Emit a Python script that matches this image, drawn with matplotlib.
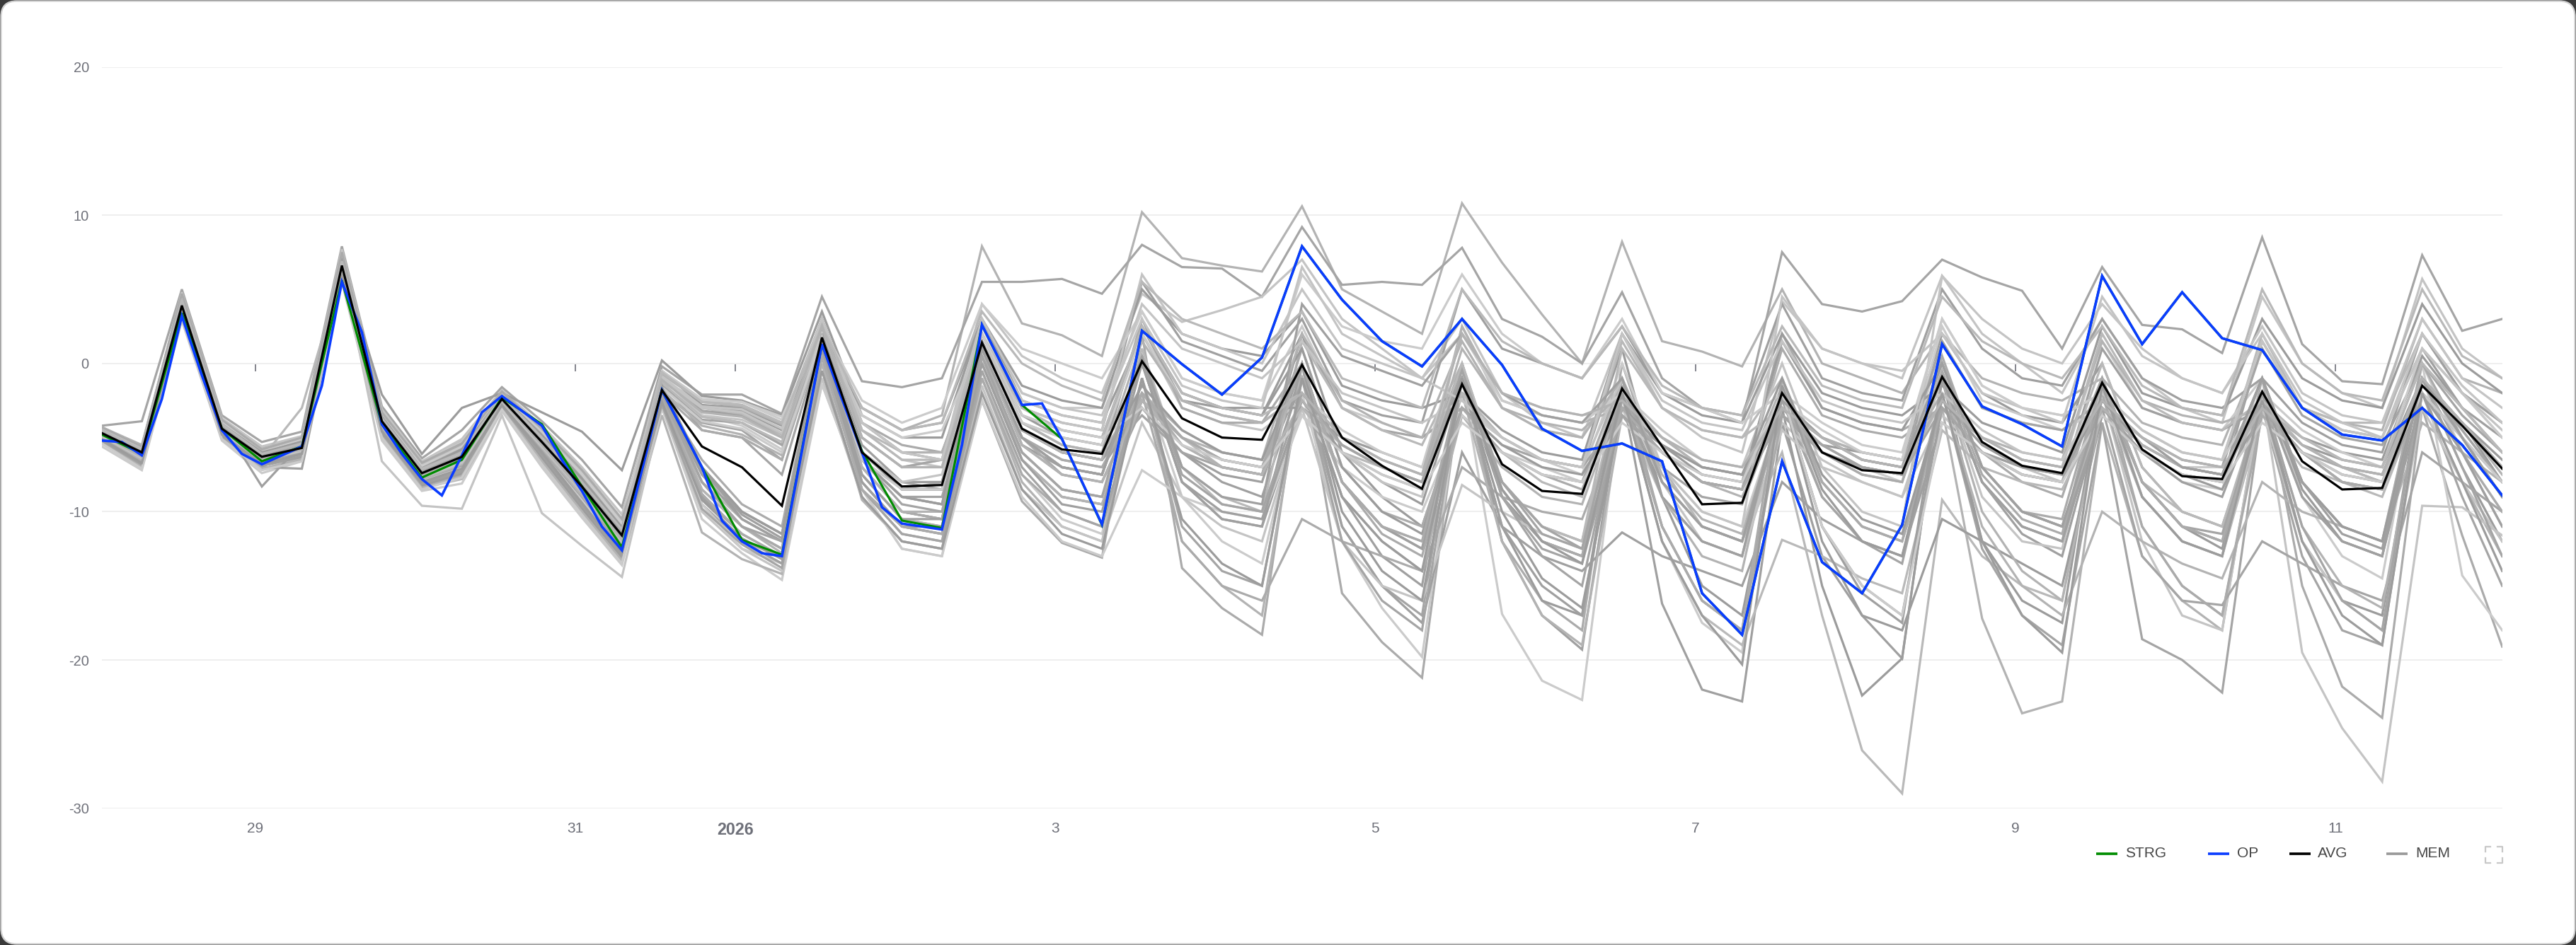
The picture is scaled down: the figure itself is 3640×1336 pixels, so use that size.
import matplotlib
matplotlib.use("Agg")
import matplotlib.pyplot as plt
from matplotlib.lines import Line2D
from matplotlib.patches import FancyBboxPatch
from matplotlib.transforms import IdentityTransform
import pandas as pd

plt.rcParams['font.family'] = ['Liberation Sans', 'DejaVu Sans']

# ---------------- data ----------------
times = pd.date_range("2025-12-28 00:00", periods=61, freq="6h")
op_times = pd.date_range("2025-12-28 00:00", "2026-01-03 00:00", freq="3h").append(
    pd.date_range("2026-01-03 06:00", "2026-01-12 00:00", freq="6h"))

avg = [-4.7, -6.0, 3.9, -4.4, -6.3, -5.7, 6.6, -3.9, -7.4, -6.3,
       -2.4, -5.3, -8.3, -11.6, -1.8, -5.6, -7.0, -9.6, 1.75, -6.0,
       -8.3, -8.2, 1.4, -4.4, -5.8, -6.1, 0.15, -3.7, -5.0, -5.15,
       -0.1, -5.0, -6.9, -8.45, -1.4, -6.8, -8.6, -8.8, -1.7, -5.6,
       -9.5, -9.4, -2.0, -6.0, -7.2, -7.4, -0.9, -5.3, -6.9, -7.4,
       -1.3, -5.8, -7.6, -7.8, -1.9, -6.6, -8.5, -8.4, -1.5, -4.2, -7.1]

strg = [-4.8, -6.1, 3.4, -4.4, -6.6, -5.6, 5.6, -4.1, -7.7, -6.5,
        -2.3, -4.1, -8.3, -12.4, -1.8, -7.0, -11.9, -12.9, 1.3, -5.9,
        -10.6, -11.1, 2.6, -2.8, -5.1, -10.9,
        2.2, -0.05, -2.1, 0.4, 7.9, 4.3, 1.5, -0.2, 3.0, -0.1, -4.4, -5.9,
        -5.4, -6.6, -15.5, -18.3, -6.6, -13.4, -15.5, -10.9, 1.3, -2.9, -4.1, -5.6,
        5.9, 1.3, 4.8, 1.7, 0.9, -3.0, -4.8, -5.2, -3.0, -5.5, -8.9]

op = [-5.2, -5.3, -6.2, -2.4, 3.2, -0.8, -4.5, -6.1, -6.8, -6.2,
      -5.6, -1.5, 5.5, 2.1, -4.1, -6.1, -7.8, -8.9, -6.2, -3.3,
      -2.2, -3.2, -4.2, -6.5, -8.6, -11.0, -12.6, -7.2, -1.8, -4.4,
      -7.0, -10.6, -12.0, -12.8, -13.0, -5.9, 1.3, -2.4, -6.0, -9.7,
      -10.8, -11.0, -11.2, -5.5, 2.6, -0.1, -2.8, -2.7, -5.1,
      -10.85, 2.2, -0.05, -2.1, 0.4, 7.9, 4.3, 1.5, -0.2, 3.0, -0.1, -4.4, -5.9,
      -5.4, -6.6, -15.5, -18.3, -6.6, -13.4, -15.5, -10.9, 1.3, -2.9, -4.1, -5.6,
      5.9, 1.3, 4.8, 1.7, 0.9, -3.0, -4.8, -5.2, -3.0, -5.5, -8.9]

members = [
    [-4.5,-5.9,4.3,-4.1,-6.0,-5.3,7.1,-3.5,-7.0,-5.8,-2.1,-4.8,-7.6,-10.8, -1.0,-3.0,-3.2,-4.5,3.0,-4.0,-6.0,-6.5,2.0,-3.5,-4.5,-5.0, 2.5,-2.0,-3.0,-3.5,2.0,-6.0,-9.0,-11.0,-3.0,-5.0,-6.5,-7.0,1.0,-9.0,-15.0,-17.0,-3.5,-5.5,-6.0,-6.5,2.0,-2.0,-3.5,-4.0,0.0,-7.0,-10.0,-11.0,-3.0,-5.0,-6.0,-6.5,0.5,-3.0,-6.0],
    [-4.3,-5.5,4.7,-3.9,-5.7,-5.0,7.5,-3.2,-6.8,-5.2,-1.9,-4.3,-7.2,-10.5, -0.5,-2.5,-2.8,-4.0,2.2,-3.0,-4.5,-3.5,7.9,2.7,1.9,0.5, 10.2,7.1,6.6,6.2,10.6,5.0,3.5,2.0,10.8,6.8,3.3,0.0,8.2,1.5,0.8,-0.2,5.0,0.0,-1.0,-2.0,2.0,-1.0,-2.0,-2.5,-1.0,-4.0,-5.0,-5.5,1.0,-3.0,-4.0,-4.5,3.0,-1.0,-2.0],
    [-4.2,-3.9,5.0,-3.5,-5.3,-4.6,7.9,-2.9,-6.4,-4.5,-1.6,-3.9,-6.5,-9.7, -0.2,-2.1,-2.1,-3.4,4.5,-1.2,-1.6,-1.0,5.5,5.5,5.7,4.7, 8.0,6.5,6.4,4.5,9.2,5.3,5.5,5.3,7.8,3.0,1.8,0.0,4.8,-1.0,-3.0,-4.0,7.5,4.0,3.5,4.2,7.0,5.8,4.9,1.0,6.5,2.6,2.3,0.7,8.5,1.3,-1.2,-1.4,7.3,2.2,3.0],
    [-4.3,-5.6,4.8,-3.7,-5.6,-4.9,7.7,-3.1,-6.6,-5.1,-1.8,-4.2,-7.0,-10.2, -1.2,-2.5,-3.0,-4.0,2.5,-5.0,-7.0,-6.5,4.0,0.5,-1.0,-2.0, 4.7,2.8,3.6,4.5,7.0,3.0,1.0,-1.0,3.0,-2.0,-4.0,-5.0,2.0,-3.0,-5.0,-6.0,4.2,1.0,0.0,-1.0,5.9,2.0,0.0,-2.0,3.0,-1.0,-3.0,-4.0,4.5,0.0,-2.0,-3.0,5.7,1.0,-1.0],
    [-5.1,-6.7,3.2,-4.9,-6.9,-6.2,5.9,-4.7,-8.1,-7.2,-2.9,-6.2,-9.5,-12.9, -2.5,-9.5,-12.0,-13.5,1.0,-8.0,-11.0,-11.5,-2.5,-9.3,-12.1,-13.1, 2.0,-13.8,-16.5,-18.3,0.0,-15.5,-18.8,-21.2,-1.0,-12.0,-16.0,-18.0,0.0,-8.0,-11.0,-12.0,-3.0,-6.0,-7.5,-8.0,0.5,-7.0,-10.0,-10.5,-1.0,-11.0,-15.0,-17.0,-3.0,-6.0,-7.0,-8.0,-1.0,-5.0,-9.0],
    [-5.6,-7.2,2.9,-5.2,-7.4,-6.6,5.5,-5.2,-8.6,-8.1,-3.2,-7.0,-10.4,-13.6, -3.0,-10.5,-12.8,-14.6,-1.4,-8.5,-12.5,-13.0,-0.5,-7.5,-10.5,-11.5, -1.0,-9.0,-12.0,-13.5,-2.0,-12.0,-16.5,-19.8,-1.0,-16.9,-21.4,-22.7,-2.0,-12.0,-17.5,-19.5,-1.0,-8.0,-11.0,-12.0,-2.5,-5.0,-6.5,-7.0,1.5,-3.0,-4.0,-4.5,-1.0,-8.0,-11.0,-12.0,0.0,-6.0,-10.0],
    [-5.3,-6.9,3.3,-5.0,-7.0,-7.1,5.8,-4.9,-8.3,-7.5,-3.0,-6.5,-9.8,-13.2, -2.0,-8.0,-11.0,-12.5,1.5,-7.0,-10.0,-10.5,0.5,-6.0,-8.5,-9.0, -3.0,-6.0,-8.0,-9.0,-1.0,-9.0,-13.0,-15.0,0.0,-12.0,-17.0,-19.3,-2.0,-16.2,-22.0,-22.8,-4.0,-13.0,-17.0,-19.9,-1.0,-8.0,-11.5,-13.0,-3.0,-6.0,-7.5,-8.0,1.5,-3.0,-4.5,-5.0,1.0,-3.0,-5.0],
    [-5.4,-7.0,3.0,-5.1,-7.1,-6.4,5.6,-5.0,-8.4,-7.8,-3.1,-6.7,-10.1,-13.4, -1.5,-3.5,-4.0,-5.5,2.0,-6.0,-8.5,-8.0,1.5,-4.5,-6.0,-6.5, -2.5,-5.0,-7.0,-7.5,0.0,-8.0,-11.0,-12.5,-3.0,-6.0,-8.0,-9.0,-1.0,-7.0,-11.0,-12.0,-6.0,-17.0,-26.1,-29.0,-9.2,-13.0,-15.0,-16.0,-2.0,-9.0,-12.0,-13.0,-3.5,-7.0,-8.0,-9.0,-2.0,-5.0,-8.0],
    [-5.2,-6.8,3.2,-4.9,-6.9,-6.3,5.8,-4.7,-8.2,-7.4,-2.9,-6.3,-9.7,-13.0, -1.5,-7.0,-10.5,-12.0,0.5,-6.5,-9.0,-9.5,1.0,-5.0,-7.0,-7.5, 0.0,-8.0,-10.5,-11.0,-3.0,-6.0,-8.0,-9.5,-1.0,-9.0,-12.0,-13.0,-1.5,-11.0,-16.0,-18.0,-3.0,-15.0,-22.4,-19.9,-1.0,-12.0,-16.0,-17.5,-1.0,-8.0,-11.0,-12.5,-2.0,-12.0,-16.0,-17.0,-1.0,-7.0,-12.0],
    [-5.3,-7.0,3.1,-5.0,-7.1,-6.5,5.7,-4.9,-8.4,-7.6,-3.0,-6.6,-10.0,-13.3, -3.5,-11.4,-13.2,-14.2,0.0,-9.2,-12.0,-12.5,-1.0,-8.0,-11.0,-12.0, -1.0,-12.0,-15.0,-17.0,-1.0,-9.0,-12.0,-14.0,-3.5,-7.0,-9.0,-9.5,-2.0,-9.0,-13.0,-14.0,-2.0,-9.0,-12.0,-13.0,-3.0,-17.2,-23.6,-22.8,-4.0,-13.0,-16.0,-18.0,-2.0,-9.0,-12.0,-13.0,-2.0,-8.0,-13.0],
    [-5.2,-6.8,3.4,-4.8,-6.8,-6.1,6.0,-4.6,-8.0,-7.1,-2.8,-6.1,-9.3,-12.7, -2.0,-4.0,-4.5,-6.5,1.8,-6.5,-9.0,-9.0,0.0,-6.5,-9.0,-9.5, -2.5,-5.5,-7.0,-7.5,-1.0,-11.0,-15.0,-17.0,0.0,-9.0,-12.5,-13.5,-3.5,-7.0,-9.0,-9.5,-2.5,-9.0,-12.0,-13.5,-2.0,-12.5,-17.0,-19.0,-4.0,-18.6,-20.0,-22.2,-3.0,-13.0,-18.0,-19.0,-2.0,-9.0,-15.0],
    [-4.9,-6.3,3.6,-4.6,-6.6,-5.9,6.3,-4.2,-7.7,-6.6,-2.6,-5.6,-8.8,-12.0, -1.0,-3.5,-3.8,-5.0,3.0,-4.5,-6.5,-7.0,2.0,-4.0,-5.0,-5.5, 2.0,-3.0,-4.0,-4.5,-2.5,-6.0,-8.0,-9.0,2.5,-3.0,-4.5,-5.0,-1.0,-8.0,-12.0,-13.0,-4.0,-6.5,-8.0,-9.0,-1.0,-9.0,-12.0,-12.5,-2.0,-12.0,-17.0,-18.0,-2.0,-19.5,-24.6,-28.2,-9.6,-9.7,-11.6],
    [-5.0,-6.5,3.5,-4.7,-6.7,-6.0,6.4,-4.4,-7.9,-6.9,-2.7,-5.8,-9.0,-12.4, -2.2,-6.5,-9.5,-11.0,2.0,-6.0,-8.0,-8.5,1.5,-4.5,-6.0,-6.5, 3.0,-3.0,-4.0,-4.0,0.0,-8.0,-11.0,-12.0,-3.5,-6.0,-7.5,-8.0,-3.0,-6.0,-8.0,-8.5,2.0,-3.0,-4.0,-4.5,-3.0,-6.0,-8.0,-9.0,-1.0,-9.0,-12.0,-13.0,-1.0,-15.0,-21.8,-23.9,-3.0,-11.6,-19.1],
    [-5.0,-6.6,3.5,-4.7,-6.6,-6.0,6.2,-4.3,-7.8,-6.8,-2.6,-5.7,-8.9,-12.3, -1.5,-3.5,-4.2,-5.8,2.5,-5.0,-7.0,-7.0,3.0,-2.0,-3.0,-3.0, 3.5,-1.0,-2.0,-2.5,2.5,-3.0,-4.0,-5.0,-3.0,-5.0,-6.5,-7.5,0.0,-7.0,-10.0,-11.0,-3.0,-5.5,-7.0,-7.5,2.5,-2.5,-3.5,-4.5,-3.0,-6.0,-8.0,-8.5,-1.0,-9.0,-13.0,-14.5,0.0,-14.3,-18.0],
    [-4.4,-5.7,4.4,-4.0,-8.3,-5.4,6.9,-3.7,-7.1,-6.0,-2.3,-5.0,-7.9,-11.0, -2.5,-9.0,-11.5,-13.0,1.5,-7.5,-10.5,-11.0,1.0,-5.0,-6.5,-7.0, -3.0,-6.0,-7.5,-8.0,0.0,-11.0,-15.0,-17.5,-6.0,-11.0,-13.0,-14.0,-11.4,-13.0,-14.0,-15.0,-8.0,-10.5,-12.0,-13.0,-4.0,-6.0,-7.5,-8.0,1.0,-3.0,-4.0,-4.5,-3.0,-5.5,-7.0,-7.5,-1.0,-4.0,-7.0],
    [-4.9,-6.4,3.8,-4.5,-6.5,-5.8,6.5,-4.1,-7.6,-6.5,-2.5,-5.5,-8.5,-11.9, -1.0,-3.0,-3.5,-5.0,2.8,-4.5,-6.0,-6.0,1.0,-5.0,-7.0,-7.5, 1.0,-7.0,-9.5,-10.0,-3.0,-6.0,-7.0,-8.0,-1.0,-8.0,-11.0,-12.0,-2.0,-12.0,-17.0,-19.0,-11.9,-13.0,-14.5,-15.5,-4.5,-7.0,-8.0,-8.5,-3.0,-5.0,-6.5,-7.0,2.0,-3.0,-4.0,-4.0,2.0,-2.0,-4.0],
    [-4.4,-5.7,4.5,-4.0,-6.0,-5.2,7.2,-3.6,-7.1,-5.9,-2.2,-4.9,-7.8,-11.1, -0.5,-2.8,-3.0,-4.2,2.2,-3.0,-4.5,-4.0,3.0,-2.5,-3.5,-4.0, 2.0,-2.5,-3.0,-3.0,-3.0,-5.0,-6.0,-7.0,-1.0,-11.0,-16.0,-17.0,-1.0,-9.0,-12.0,-13.0,-2.0,-12.0,-17.0,-18.0,-10.5,-12.0,-13.5,-15.0,-3.5,-6.0,-7.5,-8.5,-3.0,-5.5,-6.5,-7.0,-1.0,-4.0,-6.5],
    [-4.5,-5.8,4.5,-3.8,-5.9,-5.1,7.3,-3.4,-6.9,-5.5,-2.0,-4.6,-7.4,-10.9, -2.0,-8.5,-11.0,-12.8,2.0,-6.0,-8.0,-8.0,0.5,-6.5,-9.0,-9.5, -2.5,-5.0,-6.5,-7.0,-3.0,-5.5,-7.0,-8.0,2.5,-2.5,-3.5,-4.0,-3.0,-6.0,-7.5,-8.0,-1.5,-8.0,-11.0,-12.0,-2.0,-11.0,-15.0,-17.0,-10.0,-12.0,-13.5,-14.5,-8.0,-10.0,-11.0,-12.0,-4.0,-6.0,-8.0],
    [-4.4,-5.8,4.4,-4.0,-6.0,-5.2,7.1,-3.5,-7.0,-5.7,-2.1,-4.7,-7.7,-11.0, -1.2,-4.5,-5.0,-7.5,1.5,-7.0,-10.0,-10.5,1.5,-4.5,-6.0,-6.5, -3.5,-6.0,-7.0,-7.5,2.0,-3.0,-4.5,-5.0,-3.0,-5.5,-6.5,-7.0,-3.5,-5.5,-7.0,-7.5,-3.0,-5.0,-6.5,-7.0,-1.0,-8.0,-11.0,-12.0,-3.0,-13.0,-16.0,-16.3,-12.0,-13.5,-15.0,-16.0,-6.0,-8.0,-10.0],
    [-4.7,-6.1,4.0,-4.4,-6.3,-5.7,6.6,-6.6,-9.6,-9.8,-3.5,-10.1,-12.3,-14.4, -3.0,-10.0,-12.5,-14.0,-1.0,-9.0,-12.0,-12.5,-1.5,-8.5,-11.0,-12.0, -4.0,-9.0,-11.0,-12.0,-3.0,-12.0,-15.0,-16.0,-8.2,-10.0,-11.5,-12.5,-3.0,-9.0,-12.0,-13.0,-4.5,-7.0,-8.0,-9.0,-3.5,-6.0,-7.0,-8.0,-2.0,-9.0,-12.0,-13.0,-3.0,-12.0,-16.0,-18.0,-3.0,-8.0,-12.0],
    [-4.6,-6.0,4.1,-4.3,-6.2,-5.6,6.8,-3.9,-7.4,-6.3,-2.4,-5.3,-8.2,-11.5, -2.5,-9.0,-12.0,-13.0,0.5,-8.5,-11.5,-12.0,-1.0,-7.5,-10.0,-11.0, -2.0,-12.0,-15.0,-16.0,-10.5,-12.0,-13.0,-14.0,-7.0,-9.0,-10.0,-10.5,-3.5,-6.0,-8.0,-8.5,1.0,-3.5,-4.5,-5.0,-3.0,-5.0,-6.5,-7.0,-3.0,-5.5,-7.0,-7.5,-2.0,-8.0,-11.0,-12.0,-1.0,-6.0,-10.0],
    [-5.1,-6.6,3.4,-4.8,-6.7,-6.1,6.1,-4.5,-7.9,-7.0,-2.8,-5.9,-9.2,-12.6, -3.0,-9.5,-12.5,-13.5,-1.4,-8.5,-12.5,-13.0,-2.5,-9.0,-12.0,-13.0, -7.2,-9.0,-10.0,-10.5,-3.5,-7.0,-9.0,-10.0,-3.5,-6.0,-7.0,-8.0,-2.0,-8.0,-11.0,-12.0,-3.5,-6.0,-7.0,-8.0,1.5,-3.0,-4.0,-4.5,-3.0,-5.0,-7.0,-7.0,-3.5,-6.0,-7.5,-8.0,-2.0,-5.0,-8.0],
    [-4.6,-6.0,4.0,-4.3,-6.2,-5.6,6.7,-3.9,-7.4,-6.3,-2.4,-5.3,-8.3,-11.6, -1.0,-3.2,-3.5,-4.8,2.0,-5.5,-8.0,-8.0,2.0,-3.0,-4.0,-4.5, 5.5,1.5,0.5,-0.5,3.0,-2.5,-3.5,-4.0,5.0,1.0,0.0,-1.0,2.5,-2.0,-3.0,-3.5,4.0,-1.0,-2.0,-2.5,5.0,1.0,-1.0,-1.5,3.0,-1.0,-2.5,-3.0,-1.0,-4.0,-5.5,-6.0,2.0,-2.0,-4.0],
    [-4.7,-6.4,3.7,-4.5,-6.4,-3.0,6.2,-4.0,-7.6,-6.5,-2.5,-5.4,-8.6,-12.2, -2.0,-8.0,-10.5,-12.0,0.5,-6.5,-9.0,-9.5,1.0,-5.0,-7.0,-7.5, 0.0,-7.0,-9.0,-10.0,1.5,-3.0,-4.5,-5.5,0.0,-8.0,-11.0,-12.0,1.0,-3.0,-4.5,-5.0,-1.0,-8.0,-11.0,-12.0,-3.0,-6.0,-7.5,-8.0,-1.0,-8.0,-10.0,-11.0,-3.0,-6.0,-7.5,-8.0,-1.0,-4.0,-7.0],
    [-4.8,-6.2,3.9,-4.4,-6.3,-5.7,6.6,-2.1,-6.1,-3.0,-2.0,-3.3,-4.6,-7.2, 0.2,-2.2,-2.5,-3.5,3.5,-3.5,-5.0,-5.0,3.0,-1.5,-2.5,-3.0, 5.0,2.0,1.0,0.5,3.5,-1.5,-2.5,-3.0,-2.0,-4.5,-6.0,-6.5,2.0,-2.0,-3.5,-4.0,2.0,-2.0,-3.0,-3.5,-1.5,-4.0,-5.0,-6.0,2.5,-2.0,-3.0,-3.5,3.0,-1.0,-2.5,-3.0,4.0,0.0,-2.0],
    [-4.6,-6.1,4.1,-4.2,-6.1,-5.5,6.8,-3.8,-7.3,-6.2,-2.3,-5.2,-8.1,-11.4, -2.5,-8.5,-11.0,-12.5,1.0,-7.5,-10.5,-11.0,0.0,-6.5,-9.0,-9.5, -2.5,-5.0,-6.0,-6.5,-1.0,-8.0,-11.0,-12.5,-2.0,-12.0,-17.0,-19.0,-3.5,-6.0,-8.0,-9.0,-3.0,-5.0,-6.0,-6.5,-1.0,-10.0,-14.0,-16.0,-3.0,-6.0,-7.5,-8.0,-2.0,-11.0,-15.0,-16.5,-2.0,-6.0,-11.0],
    [-4.8,-6.2,3.8,-4.4,-6.4,-5.8,6.5,-3.9,-7.4,-6.3,-2.4,-5.3,-8.4,-11.7, -1.5,-3.8,-4.0,-5.5,2.5,-5.0,-7.0,-6.5,1.5,-4.0,-5.5,-6.0, 2.5,-2.5,-3.5,-4.0,-2.0,-5.0,-6.5,-7.5,0.0,-9.0,-13.0,-15.0,-2.5,-5.0,-7.0,-7.5,-3.0,-5.0,-6.5,-7.0,1.5,-3.0,-4.0,-4.5,-2.5,-5.0,-6.5,-7.0,1.0,-3.5,-5.0,-5.5,0.0,-3.5,-6.0],
    [-4.5,-5.8,4.4,-4.1,-6.1,-5.4,7.0,-3.7,-7.2,-6.0,-2.2,-5.0,-8.0,-11.3, -2.0,-7.5,-10.0,-11.5,2.0,-6.0,-8.5,-8.5,2.5,-3.0,-4.0,-4.5, 6.0,2.0,1.0,0.0,5.0,1.0,0.0,-1.0,2.0,-2.0,-3.0,-3.5,-3.0,-5.0,-6.5,-7.0,0.0,-7.0,-10.0,-11.0,5.9,3.0,1.0,0.0,4.0,1.0,-1.0,-2.0,2.5,-2.0,-3.5,-4.0,3.0,-1.0,-3.0],
    [-4.8,-6.3,3.7,-4.5,-6.4,-5.9,6.4,-4.1,-7.5,-6.6,-2.5,-5.5,-8.6,-11.9, -2.0,-4.5,-5.0,-6.5,3.0,-4.0,-5.5,-6.0,1.0,-5.5,-7.5,-8.0, -2.0,-5.5,-7.0,-7.5,1.0,-7.0,-10.0,-11.0,-3.0,-6.0,-7.5,-8.0,-1.0,-11.0,-16.0,-18.0,-3.5,-6.0,-7.0,-7.5,0.0,-7.0,-10.0,-11.0,-3.0,-6.0,-7.5,-8.0,-1.0,-8.0,-11.0,-12.0,0.0,-5.0,-9.0],
    [-4.3,-5.6,4.6,-3.8,-5.8,-5.0,7.4,-3.3,-6.7,-5.3,-1.9,-4.4,-7.3,-10.6, -0.8,-2.5,-2.6,-3.8,2.5,-2.5,-4.0,-3.0,4.0,1.0,0.0,-1.0, 3.5,-1.0,-2.0,-2.5,6.0,2.5,1.5,1.0,6.0,2.0,0.0,-1.0,3.0,-2.0,-3.0,-4.0,-2.0,-4.0,-5.5,-6.0,3.0,-1.5,-3.0,-3.5,-2.0,-4.5,-6.0,-6.5,-2.0,-4.5,-6.0,-7.0,1.0,-2.0,-5.0],
    [-4.6,-6.0,4.1,-4.3,-6.2,-5.6,6.7,-3.9,-7.4,-6.4,-2.4,-5.3,-8.3,-11.6, -2.0,-7.5,-10.5,-12.0,1.0,-8.0,-11.0,-11.0,1.0,-5.5,-7.0,-7.5, 0.0,-8.0,-10.0,-10.5,-2.5,-6.0,-7.5,-8.5,-1.0,-8.5,-12.0,-13.0,-3.0,-6.0,-8.0,-8.5,-2.0,-11.0,-15.0,-17.0,-3.0,-6.0,-7.0,-7.5,-1.0,-8.0,-11.0,-12.0,-3.0,-6.0,-8.0,-8.5,-2.0,-5.0,-9.0],
    [-4.9,-6.4,3.6,-4.6,-6.5,-5.8,6.3,-4.2,-7.7,-6.7,-2.6,-5.6,-8.7,-12.1, -1.2,-3.0,-3.4,-4.8,2.0,-6.0,-8.5,-8.5,0.5,-6.0,-8.5,-9.0, -2.0,-5.0,-6.5,-7.0,-3.0,-5.5,-7.0,-8.0,0.0,-8.0,-11.0,-12.0,-1.0,-8.0,-11.0,-12.0,-3.0,-5.5,-7.0,-7.5,-2.5,-5.5,-7.0,-7.5,0.0,-7.0,-10.0,-11.0,-2.5,-5.5,-7.0,-8.0,-1.0,-4.5,-8.0],
    [-4.7,-6.1,3.9,-4.4,-6.3,-5.7,6.6,-4.0,-7.5,-6.4,-2.5,-5.4,-8.4,-11.7, -1.8,-7.0,-10.0,-11.5,0.5,-6.5,-9.0,-9.5,2.0,-3.5,-5.0,-5.5, 2.5,-2.0,-3.0,-3.5,1.0,-7.0,-10.0,-11.5,-3.0,-5.5,-7.0,-7.5,-3.0,-5.5,-7.5,-8.0,1.5,-3.0,-4.0,-4.5,0.0,-7.0,-10.0,-11.0,-3.0,-5.5,-7.0,-7.5,-1.0,-8.5,-12.0,-13.0,-1.0,-4.0,-8.0],
    [-4.5,-5.9,4.2,-4.2,-6.1,-5.4,7.0,-3.6,-7.1,-5.9,-2.2,-5.0,-7.9,-11.2, -0.7,-2.6,-2.9,-4.1,3.0,-4.0,-6.0,-6.0,1.5,-4.0,-5.5,-6.0, -2.0,-4.5,-6.0,-6.5,2.0,-2.5,-4.0,-5.0,1.5,-3.0,-4.0,-4.5,-2.0,-5.0,-7.0,-7.5,-2.5,-5.0,-6.0,-6.5,-2.0,-5.0,-6.0,-6.5,1.5,-2.5,-3.5,-4.0,-3.0,-5.0,-6.5,-7.0,0.0,-3.0,-6.0],
    [-5.0,-6.5,3.5,-4.7,-6.6,-6.0,6.3,-4.4,-7.8,-6.9,-2.7,-5.8,-9.0,-12.4, -2.8,-9.8,-12.2,-13.8,0.5,-8.5,-11.5,-12.0,-0.5,-7.0,-10.0,-11.0, -1.0,-11.0,-14.0,-15.0,-1.0,-12.0,-16.0,-18.0,-1.0,-8.0,-11.0,-12.5,-1.5,-8.0,-11.0,-12.0,-3.5,-6.0,-7.0,-7.5,-1.0,-8.0,-11.0,-12.0,-1.5,-8.0,-11.0,-12.0,-2.0,-11.0,-16.0,-18.0,-1.0,-7.0,-13.0],
    [-4.6,-6.0,4.0,-4.3,-6.2,-5.6,6.6,-3.9,-7.3,-6.2,-2.4,-5.2,-8.2,-11.5, -1.0,-3.0,-3.3,-4.7,2.0,-6.0,-8.0,-7.5,2.5,-2.5,-3.5,-4.0, 4.0,1.0,0.0,-1.0,1.5,-2.0,-3.0,-4.0,-2.5,-5.0,-6.5,-7.0,-1.0,-7.0,-10.0,-11.0,4.5,1.0,0.0,-0.5,2.0,-2.0,-3.0,-4.0,4.5,0.5,-1.0,-2.0,2.0,-2.5,-4.0,-5.0,2.0,-1.5,-4.0],
    [-4.8,-6.2,3.8,-4.5,-6.4,-5.8,6.5,-4.1,-7.6,-6.6,-2.5,-5.5,-8.5,-11.9, -2.2,-8.0,-11.0,-12.5,1.5,-7.0,-10.0,-10.5,0.5,-5.0,-7.5,-8.0, -2.0,-5.0,-6.5,-7.0,0.0,-8.0,-11.5,-13.0,-3.0,-6.0,-7.5,-8.5,-2.0,-11.0,-16.0,-18.0,-1.0,-8.0,-11.0,-12.0,-3.0,-6.0,-7.5,-8.0,-2.0,-11.0,-15.0,-17.0,-3.5,-6.0,-7.5,-8.0,-2.0,-5.0,-9.0],
    [-4.4,-5.7,4.5,-3.9,-5.9,-5.1,7.2,-3.4,-6.9,-5.6,-2.0,-4.6,-7.5,-10.8, -0.5,-2.4,-2.6,-3.6,2.0,-3.5,-5.0,-4.5,1.5,-4.0,-5.0,-5.5, 2.0,-2.5,-3.5,-4.0,-2.0,-4.5,-6.0,-7.0,2.0,-2.5,-3.5,-4.0,-2.0,-4.5,-6.5,-7.0,-2.5,-4.5,-6.0,-6.5,3.0,-1.5,-3.0,-3.5,-2.0,-4.5,-6.0,-6.5,1.5,-3.0,-4.5,-5.0,1.0,-2.0,-5.0],
    [-5.2,-6.8,3.3,-4.9,-6.9,-6.3,5.9,-4.7,-8.1,-7.3,-2.9,-6.2,-9.6,-12.9, -2.5,-9.0,-12.0,-13.5,1.0,-8.0,-11.0,-11.5,0.0,-6.5,-9.5,-10.0, 0.0,-8.0,-10.5,-11.0,0.0,-8.0,-11.0,-12.5,-1.0,-11.0,-15.0,-17.0,-2.0,-9.0,-12.0,-13.0,-2.0,-11.0,-15.5,-17.5,-1.0,-8.0,-11.0,-12.0,-3.0,-6.0,-8.0,-9.0,-2.0,-9.0,-12.0,-13.0,-2.0,-6.0,-11.0],
    [-4.7,-6.1,4.0,-4.4,-6.3,-5.7,6.7,-4.0,-7.4,-6.3,-2.4,-5.3,-8.3,-11.6, -1.3,-3.6,-4.0,-5.3,2.5,-4.5,-6.5,-6.5,2.0,-3.0,-4.5,-5.0, 2.5,-2.0,-3.0,-3.5,-2.0,-5.0,-6.5,-7.5,-2.0,-5.0,-6.5,-7.0,1.5,-3.0,-4.5,-5.0,-3.0,-5.0,-6.5,-7.0,-2.5,-5.0,-6.5,-7.0,2.0,-2.5,-4.0,-4.5,-2.5,-5.0,-6.5,-7.0,0.0,-3.0,-6.0],
    [-4.5,-5.9,4.3,-4.1,-6.0,-5.3,7.1,-3.6,-7.1,-5.8,-2.2,-4.9,-7.8,-11.1, -1.5,-7.0,-10.0,-11.5,2.0,-6.0,-8.5,-8.5,1.5,-4.5,-6.0,-6.5, -1.5,-4.5,-6.0,-6.5,0.0,-10.0,-14.0,-16.0,-1.0,-10.0,-14.5,-16.5,-3.0,-5.5,-7.0,-7.5,-1.0,-7.5,-10.5,-11.5,-2.5,-5.5,-7.0,-7.5,-2.5,-5.5,-7.0,-7.5,-1.0,-8.0,-11.0,-12.0,-1.0,-5.0,-9.0],
    [-5.0,-6.5,3.6,-4.7,-6.6,-5.9,6.3,-4.3,-7.8,-6.8,-2.6,-5.7,-8.9,-12.2, -1.8,-4.2,-4.8,-6.2,1.5,-7.0,-10.0,-10.0,1.0,-5.5,-7.5,-8.0, -2.5,-5.5,-7.0,-7.5,-2.5,-5.5,-7.0,-8.0,1.0,-3.0,-4.5,-5.0,-1.0,-7.5,-10.5,-11.5,-3.0,-5.5,-7.0,-7.5,0.0,-7.0,-10.0,-11.0,-3.0,-5.5,-7.0,-7.5,-3.0,-5.5,-7.0,-7.5,-1.0,-4.0,-7.5],
    [-4.6,-6.0,4.1,-4.3,-6.2,-5.6,6.8,-3.9,-7.3,-6.2,-2.3,-5.2,-8.1,-11.4, -2.0,-8.0,-11.0,-12.0,0.5,-6.5,-9.5,-10.0,0.5,-6.0,-8.5,-9.0, 0.5,-7.5,-9.5,-10.0,-2.0,-5.5,-7.0,-8.0,-0.5,-8.0,-11.5,-12.5,-3.5,-6.0,-8.0,-8.5,-3.5,-5.5,-7.0,-7.5,-3.0,-6.0,-7.5,-8.0,-1.0,-8.0,-11.0,-11.5,-3.0,-6.0,-8.0,-8.5,-1.0,-4.5,-8.0],
    [-4.9,-6.4,3.7,-4.6,-6.5,-5.9,6.4,-4.2,-7.7,-6.7,-2.6,-5.6,-8.7,-12.0, -0.9,-2.9,-3.1,-4.4,3.0,-4.0,-6.0,-6.5,3.0,-2.0,-3.0,-3.5, 3.0,-1.5,-2.5,-3.0,6.5,2.0,0.5,-1.0,-2.5,-5.0,-6.5,-7.0,2.0,-2.5,-4.0,-4.5,1.5,-2.5,-3.5,-4.0,-2.0,-4.5,-6.0,-6.5,-2.0,-4.5,-6.0,-6.5,1.5,-3.0,-4.5,-5.0,1.0,-2.0,-4.5],
    [-4.3,-5.6,4.7,-3.8,-5.8,-5.0,7.5,-3.3,-6.7,-5.4,-1.9,-4.4,-7.2,-10.5, -2.4,-8.8,-11.5,-13.0,0.5,-8.5,-11.0,-11.5,1.0,-5.0,-6.5,-7.0, -2.0,-5.0,-6.5,-7.0,0.0,-8.0,-11.0,-12.0,-1.0,-8.5,-12.0,-13.0,-3.0,-6.0,-8.0,-8.5,-3.0,-6.0,-7.5,-8.0,-0.5,-7.5,-10.5,-11.5,-1.0,-8.0,-11.0,-12.0,-3.0,-6.0,-8.0,-8.5,-1.0,-5.0,-9.0],
    [-5.4,-7.1,3.0,-5.1,-7.2,-6.6,5.6,-5.0,-8.5,-7.7,-3.1,-6.8,-10.2,-13.5, -1.6,-3.9,-4.4,-6.0,1.8,-6.5,-8.5,-8.5,2.0,-3.5,-4.5,-5.0, -3.0,-5.5,-6.5,-7.0,-3.5,-6.0,-7.5,-8.5,-4.0,-6.0,-7.5,-8.0,-4.0,-6.0,-7.5,-8.0,-2.0,-11.0,-15.0,-17.0,-4.0,-6.0,-7.5,-8.0,-3.5,-6.0,-7.5,-8.0,-4.0,-6.0,-7.5,-8.0,-2.0,-5.0,-8.0],
    [-4.7,-6.2,3.9,-4.4,-6.3,-5.7,6.6,-4.0,-7.5,-6.4,-2.5,-5.4,-8.4,-11.7, -1.6,-7.2,-10.2,-11.8,1.5,-7.5,-10.5,-10.5,1.0,-5.0,-7.0,-7.5, 0.5,-7.0,-9.0,-9.5,4.0,0.5,-0.5,-1.5,2.0,-2.0,-3.5,-4.0,-1.0,-8.0,-11.0,-12.0,-2.5,-5.0,-6.5,-7.0,0.0,-7.0,-10.0,-11.0,-2.5,-5.0,-7.0,-7.5,-1.0,-8.0,-11.5,-12.5,-1.0,-5.0,-9.0],
    [-4.5,-5.8,4.3,-4.1,-6.1,-5.4,6.9,-3.7,-7.1,-6.0,-2.2,-5.0,-8.0,-11.2, -0.6,-2.6,-2.8,-4.0,2.5,-3.0,-4.5,-4.0,3.5,0.0,-1.5,-2.5, 5.5,3.0,2.0,1.0,3.5,-1.0,-2.0,-3.0,5.0,1.5,0.0,-1.0,2.5,-1.5,-3.0,-3.5,2.5,-1.5,-2.5,-3.0,4.5,1.5,0.0,-1.0,2.5,-1.5,-3.0,-3.5,5.0,0.0,-2.0,-2.5,5.0,0.5,-1.0],
    [-5.1,-6.7,3.4,-4.8,-6.8,-6.1,6.0,-4.6,-8.0,-7.1,-2.8,-6.0,-9.4,-12.8, -2.6,-9.2,-11.8,-13.2,-0.5,-9.0,-12.0,-12.5,-2.0,-8.5,-11.5,-12.5, -1.0,-10.5,-13.5,-15.0,-1.0,-9.0,-12.0,-14.0,-1.0,-8.5,-12.0,-13.5,-2.0,-12.0,-17.0,-20.3,-1.5,-8.5,-12.0,-13.0,-2.0,-12.0,-17.0,-19.5,-1.5,-9.0,-12.0,-13.0,-2.5,-12.0,-17.0,-19.0,-2.0,-8.0,-14.0],
    [-4.8,-6.3,3.8,-4.5,-6.4,-5.8,6.5,-4.1,-7.6,-6.5,-2.5,-5.5,-8.6,-11.9, -1.1,-3.3,-3.6,-5.0,2.5,-5.0,-7.0,-7.0,1.5,-4.5,-6.0,-6.5, 1.5,-2.5,-3.5,-4.0,-2.0,-5.0,-6.5,-7.5,2.0,-2.0,-3.0,-3.5,-2.5,-5.0,-6.5,-7.0,-3.0,-5.0,-6.5,-7.0,-2.5,-5.0,-6.5,-7.0,-2.5,-5.0,-6.5,-7.0,-3.0,-5.5,-7.0,-7.5,-1.0,-4.0,-7.0],
]

tick_times = pd.to_datetime(["2025-12-28 23:00", "2025-12-30 23:00", "2025-12-31 23:00",
                             "2026-01-02 23:00", "2026-01-04 23:00", "2026-01-06 23:00",
                             "2026-01-08 23:00", "2026-01-10 23:00"])
tick_labels = ["29", "31", "2026", "3", "5", "7", "9", "11"]
y_ticks = [-30, -20, -10, 0, 10, 20]

# ---------------- style ----------------
W, H, DPI = 3640, 1336, 200
AXIS_GRAY = "#6e7079"
mem_grays = ["#9c9c9c", "#b3b3b3", "#a5a5a5", "#c4c4c4", "#ababab", "#cbcbcb", "#a0a0a0", "#b9b9b9"]

fig = plt.figure(figsize=(W / DPI, H / DPI), dpi=DPI)
fig.patch.set_facecolor("#3a3a3a")
card = FancyBboxPatch((1.5, 1.5), W - 3, H - 3, boxstyle="round,pad=0,rounding_size=22",
                      transform=IdentityTransform(), facecolor="white", edgecolor="#cfcfcf",
                      linewidth=0.8, zorder=-10)
fig.patches.append(card)

ax = fig.add_axes([143.9 / W, 193.4 / H, (3535.7 - 143.9) / W, (1142.6 - 94.6) / H])
ax.set_facecolor("none")
for s in ax.spines.values():
    s.set_visible(False)

for k, m in enumerate(members):
    ax.plot(times, m, color=mem_grays[k % len(mem_grays)], lw=1.15, zorder=2,
            solid_joinstyle="miter")

ax.plot(times, strg, color="#008c00", lw=1.15, zorder=3, solid_joinstyle="miter")
ax.plot(op_times, op, color="#0a3cff", lw=1.3, zorder=4, solid_joinstyle="miter")
ax.plot(times, avg, color="black", lw=1.15, zorder=5, solid_joinstyle="miter")

ax.set_xlim(times[0], times[-1])
ax.set_ylim(-30, 20)
ax.set_yticks(y_ticks)
ax.set_yticklabels([str(v) for v in y_ticks])
ax.yaxis.grid(True, color="#efefef", lw=0.75, zorder=0)
ax.axhline(0, color=AXIS_GRAY, lw=0.6, zorder=1.5)
ax.vlines(tick_times, -0.55, 0, color=AXIS_GRAY, lw=0.6, zorder=1.5)

ax.set_xticks(tick_times)
ax.set_xticklabels(tick_labels)
ax.tick_params(axis="x", length=0, pad=7.0, labelsize=7.5, labelcolor=AXIS_GRAY)
ax.tick_params(axis="y", length=0, pad=6.5, labelsize=7.2, labelcolor=AXIS_GRAY)
for lab in ax.get_xticklabels():
    if lab.get_text() == "2026":
        lab.set_fontweight("bold")
        lab.set_fontsize(8.4)

# ---------------- legend ----------------
def fx(px):
    return px / W

def fy(py):
    return 1 - py / H

legend_items = [("STRG", "#008c00", 2962, 3003), ("OP", "#0a3cff", 3120, 3161),
                ("AVG", "black", 3235, 3275), ("MEM", "#999999", 3372, 3413)]
ly = 1207
for name, col, x0, tx in legend_items:
    fig.add_artist(Line2D([fx(x0), fx(x0 + 30)], [fy(ly), fy(ly)], color=col, lw=1.3,
                          transform=fig.transFigure, solid_capstyle="butt"))
    fig.text(fx(tx), fy(ly), name, fontsize=7.5, color="#464646", va="center", ha="left")

# full-screen icon
icol = "#c8c8c8"
x0, x1, y0, y1, a = 3512, 3536, 1197, 1220, 7
for (cx, cy, dx, dy) in [(x0, y0, 1, 1), (x1, y0, -1, 1), (x0, y1, 1, -1), (x1, y1, -1, -1)]:
    fig.add_artist(Line2D([fx(cx + dx * a), fx(cx), fx(cx)], [fy(cy), fy(cy), fy(cy + dy * a)],
                          color=icol, lw=0.8, transform=fig.transFigure))

fig.savefig("out.png", dpi=DPI, facecolor=fig.get_facecolor())
